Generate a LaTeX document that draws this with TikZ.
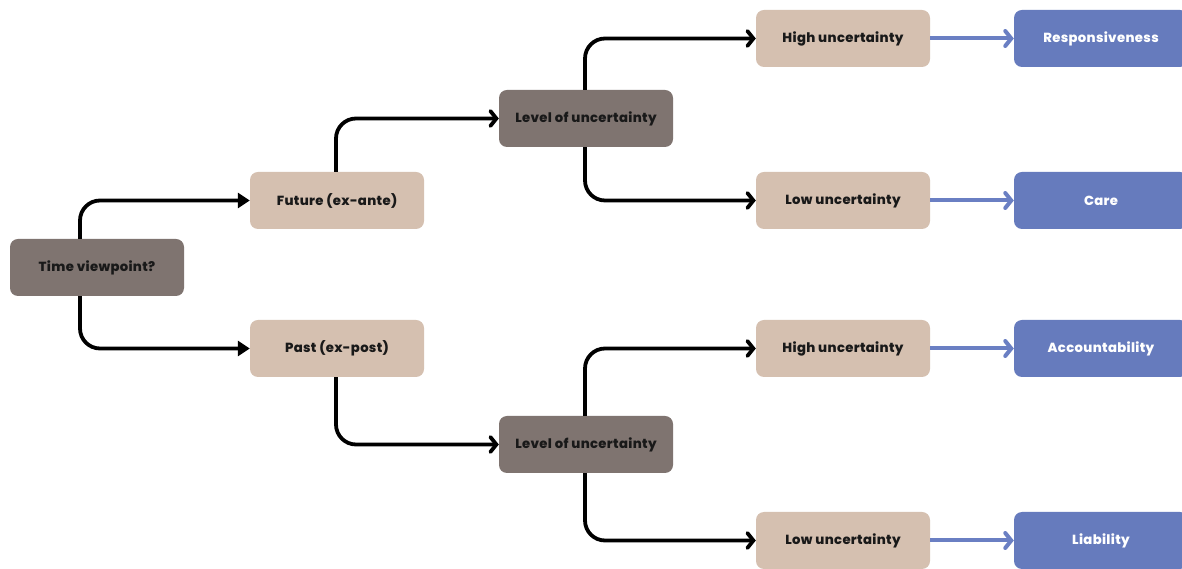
\documentclass[tikz,border=0pt]{standalone}
\usepackage{fontspec}
\setmainfont{Poppins}[BoldFont={Poppins ExtraBold}, LetterSpace=2.5]
\usetikzlibrary{arrows.meta}
\definecolor{darkbox}{HTML}{7F7470}
\definecolor{sandbox}{HTML}{D5C0B0}
\definecolor{bluebox}{HTML}{667BBD}
\definecolor{bluearrow}{HTML}{6A7FC3}
\tikzset{
  box/.style={rounded corners=8pt, minimum width=174pt, minimum height=57pt,
    inner sep=0pt, font=\fontsize{13.2}{16}\selectfont\bfseries},
  darkn/.style={box, fill=darkbox, text=black!90},
  sandn/.style={box, fill=sandbox, text=black!90},
  bluen/.style={box, fill=bluebox, text=white},
  link/.style={line width=3.8pt, rounded corners=20pt, black},
  firstlink/.style={link, -{Triangle[length=12pt,width=15pt]}},
  nextlink/.style={link, -{Straight Barb[length=6pt,width=15pt,line cap=round]}},
  outlink/.style={line width=4pt, bluearrow, -{Straight Barb[length=6pt,width=15pt,line cap=round]}}
}
\begin{document}
\begin{tikzpicture}[x=1pt,y=1pt]
\useasboundingbox (0,0) rectangle (1182,569);
\clip (0,0) rectangle (1182,569);
\fill[white] (0,0) rectangle (1182,569);

% decision nodes
\node[darkn] (time) at (97,301.5) {Time viewpoint?};
\node[sandn] (future) at (337,368.5) {Future (ex-ante)};
\node[sandn] (past) at (337,220.5) {Past (ex-post)};
\node[darkn] (lvlA) at (586,450.5) {Level of uncertainty};
\node[darkn] (lvlB) at (586,124.5) {Level of uncertainty};

% uncertainty outcomes
\node[sandn] (hiA) at (843,530.5) {High uncertainty};
\node[sandn] (loA) at (843,368.5) {Low uncertainty};
\node[sandn] (hiB) at (843,220.5) {High uncertainty};
\node[sandn] (loB) at (843,28.5) {Low uncertainty};

% resulting notions
\node[bluen] (resp) at (1101,530.5) {Responsiveness};
\node[bluen] (care) at (1101,368.5) {Care};
\node[bluen] (acc) at (1101,220.5) {Accountability};
\node[bluen] (liab) at (1101,28.5) {Liability};

% branching connectors
\draw[firstlink] ([xshift=-17pt]time.north) |- (future.west);
\draw[firstlink] ([xshift=-17pt]time.south) |- (past.west);
\draw[nextlink] ([xshift=-1pt]future.north) |- (lvlA.west);
\draw[nextlink] ([xshift=-1pt]past.south) |- (lvlB.west);
\draw[nextlink] ([xshift=-1pt]lvlA.north) |- (hiA.west);
\draw[nextlink] ([xshift=-1pt]lvlA.south) |- (loA.west);
\draw[nextlink] ([xshift=-1pt]lvlB.north) |- (hiB.west);
\draw[nextlink] ([xshift=-1pt]lvlB.south) |- (loB.west);

% outcome arrows
\draw[outlink] (hiA.east) -- (resp.west);
\draw[outlink] (loA.east) -- (care.west);
\draw[outlink] (hiB.east) -- (acc.west);
\draw[outlink] (loB.east) -- (liab.west);
\end{tikzpicture}
\end{document}
